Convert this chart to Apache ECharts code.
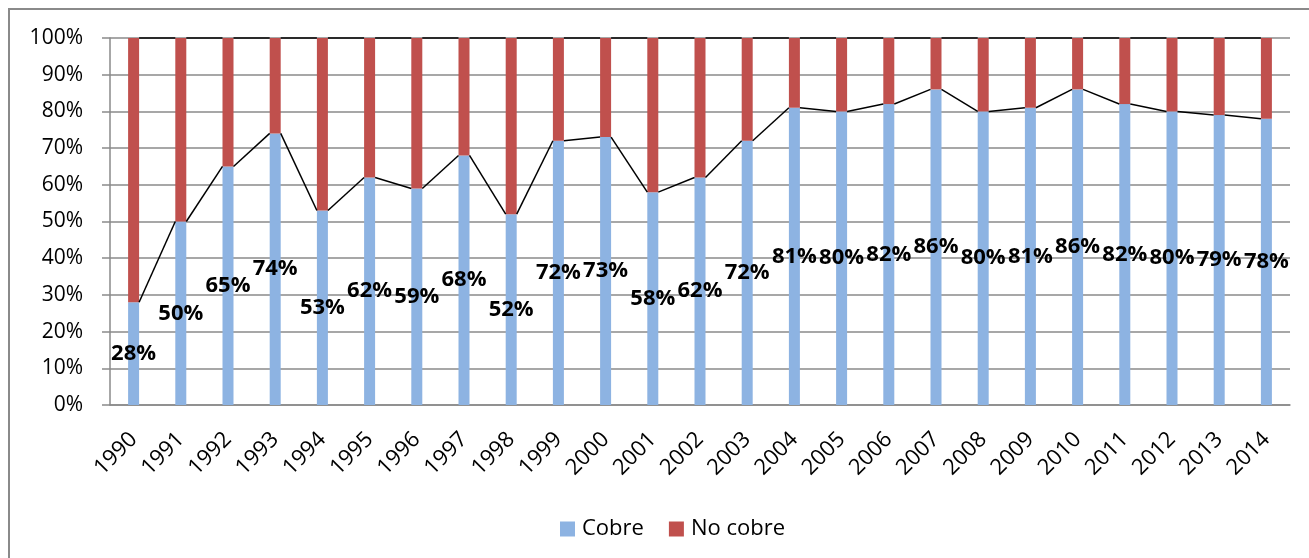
<!DOCTYPE html>
<html>
<head>
<meta charset="utf-8">
<script src="https://cdn.jsdelivr.net/npm/echarts@6/dist/echarts.min.js"></script>
<style>
html, body { margin: 0; padding: 0; background: #fff; }
#chart { width: 1309px; height: 558px; }
</style>
</head>
<body>
<div id="chart"></div>
<script>
var years = ['1990', '1991', '1992', '1993', '1994', '1995', '1996', '1997', '1998', '1999', '2000', '2001', '2002',
    '2003', '2004', '2005', '2006', '2007', '2008', '2009', '2010', '2011', '2012', '2013', '2014'];
var cobre = [28, 50, 65, 74, 53, 62, 59, 68, 52, 72, 73, 58, 62, 72, 81, 80, 82, 86, 80, 81, 86, 82, 80, 79, 78];
var noCobre = [72, 50, 35, 26, 47, 38, 41, 32, 48, 28, 27, 42, 38, 28, 19, 20, 18, 14, 20, 19, 14, 18, 20, 21, 22];
var yTicks = [0, 10, 20, 30, 40, 50, 60, 70, 80, 90, 100];

var chart = echarts.init(document.getElementById('chart'));

var barW = 11;
var font = 'Open Sans';

// Excel-style series lines: from the right edge of one bar top to the left edge of the next
var cobreLinks = [];
var totalLinks = [];
for (var i = 0; i < years.length - 1; i++) {
    cobreLinks.push([i, cobre[i], cobre[i + 1]]);
    totalLinks.push([i, cobre[i] + noCobre[i], cobre[i + 1] + noCobre[i + 1]]);
}

function seriesLine(params, api) {
    var a = api.coord([api.value(0), api.value(1)]);
    var b = api.coord([api.value(0) + 1, api.value(2)]);
    return {
        type: 'line',
        shape: { x1: a[0] + barW / 2, y1: a[1], x2: b[0] - barW / 2, y2: b[1] },
        style: { stroke: '#000', lineWidth: 1.5 }
    };
}

var option = {
    animation: false,
    textStyle: { fontFamily: font },
    graphic: [{
        type: 'rect',
        shape: { x: 9, y: 9, width: 1400, height: 600 },
        style: { fill: 'none', stroke: '#8a8a8a', lineWidth: 2 },
        silent: true
    }],
    grid: { left: 110, right: 19, top: 38, bottom: 153 },
    legend: {
        data: ['Cobre', 'No cobre'],
        left: 555,
        top: 513,
        itemWidth: 15,
        itemHeight: 15,
        itemGap: 25,
        icon: 'rect',
        textStyle: { fontFamily: font, fontSize: 22, color: '#000', padding: [0, 0, 0, 2] }
    },
    xAxis: {
        type: 'category',
        data: years,
        axisLine: { lineStyle: { color: '#8a8a8a', width: 1.5 } },
        axisTick: { show: false },
        axisLabel: { rotate: 45, margin: 31, fontSize: 22, color: '#000', fontFamily: font, interval: 0 }
    },
    yAxis: {
        type: 'value',
        min: yTicks[0],
        max: yTicks[yTicks.length - 1],
        interval: 10,
        axisLine: { show: true, lineStyle: { color: '#8a8a8a', width: 1.5 } },
        axisTick: { show: true, length: 8, lineStyle: { color: '#8a8a8a', width: 1.5 } },
        splitLine: { lineStyle: { color: '#8a8a8a', width: 1.5 } },
        axisLabel: { formatter: '{value}%', margin: 27, fontSize: 21, color: '#000', fontFamily: font }
    },
    series: [{
        name: 'Cobre',
        type: 'bar',
        stack: 'total',
        barWidth: barW,
        data: cobre,
        itemStyle: { color: '#8db3e2' },
        label: {
            show: true,
            position: 'inside',
            formatter: '{c}%',
            fontFamily: font,
            fontWeight: 'bold',
            fontSize: 22,
            color: '#000'
        },
        z: 2
    }, {
        name: 'No cobre',
        type: 'bar',
        stack: 'total',
        barWidth: barW,
        data: noCobre,
        itemStyle: { color: '#c0504d' },
        z: 2
    }, {
        name: 'links1',
        type: 'custom',
        renderItem: seriesLine,
        data: cobreLinks,
        encode: { x: 0, y: 1 },
        silent: true,
        z: 3
    }, {
        name: 'links2',
        type: 'custom',
        renderItem: seriesLine,
        data: totalLinks,
        encode: { x: 0, y: 1 },
        silent: true,
        z: 3
    }]
};

chart.setOption(option);
</script>
</body>
</html>
